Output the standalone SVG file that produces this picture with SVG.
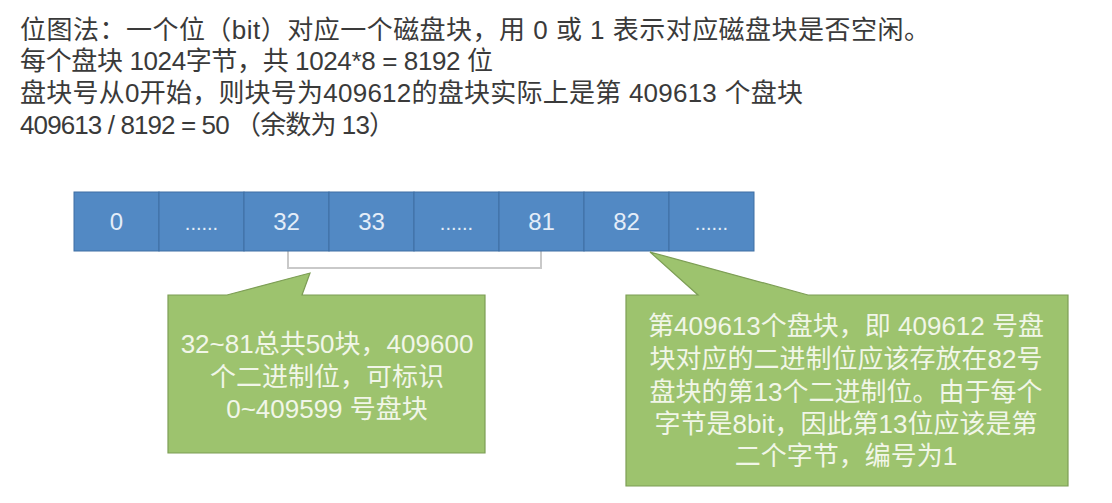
<svg xmlns="http://www.w3.org/2000/svg" width="1112" height="503" viewBox="0 0 1112 503">
<style>
.hdr{font-family:"Liberation Sans","Noto Sans CJK SC",sans-serif;font-size:26px;fill:#3a3a3a}
.cell{fill:#5289c4;stroke:#3f6fa3;stroke-width:1}
.lbl{font-family:"Liberation Sans","Noto Sans CJK SC",sans-serif;font-size:24px;fill:#e4edf8;text-anchor:middle}
.dots{font-family:"Liberation Sans",sans-serif;font-size:20px;fill:#e4edf8;text-anchor:middle}
.call{fill:#9dc36e;stroke:#7d9e55;stroke-width:1.2}
.ct{font-family:"Liberation Sans","Noto Sans CJK SC",sans-serif;font-size:26px;fill:#f1f6e8;text-anchor:middle}
.brk{fill:#ffffff;stroke:#c9c9c9;stroke-width:2}
</style>
<rect width="1112" height="503" fill="#ffffff"/>
<g id="header">
<text class="hdr" x="20" y="39" textLength="910" lengthAdjust="spacing">位图法：一个位（bit）对应一个磁盘块，用 0 或 1 表示对应磁盘块是否空闲。</text>
<text class="hdr" x="20" y="70" textLength="473" lengthAdjust="spacing">每个盘块 1024字节，共 1024*8 = 8192 位</text>
<text class="hdr" x="20" y="102" textLength="783" lengthAdjust="spacing">盘块号从0开始，则块号为409612的盘块实际上是第 409613 个盘块</text>
<text class="hdr" x="20" y="134" textLength="375" lengthAdjust="spacing">409613 / 8192 = 50 （余数为 13）</text>
</g>
<g id="connectors">
<path class="brk" d="M288,251 V268 H541 V251"/>
</g>
<g id="cell-0"><rect class="cell" x="74" y="192" width="85" height="59"/><text class="lbl" x="116.5" y="230">0</text></g>
<g id="cell-dots1"><rect class="cell" x="159" y="192" width="85" height="59"/><text class="dots" x="201.5" y="230">......</text></g>
<g id="cell-32"><rect class="cell" x="244" y="192" width="85" height="59"/><text class="lbl" x="286.5" y="230">32</text></g>
<g id="cell-33"><rect class="cell" x="329" y="192" width="85" height="59"/><text class="lbl" x="371.5" y="230">33</text></g>
<g id="cell-dots2"><rect class="cell" x="414" y="192" width="85" height="59"/><text class="dots" x="456.5" y="230">......</text></g>
<g id="cell-81"><rect class="cell" x="499" y="192" width="85" height="59"/><text class="lbl" x="541.5" y="230">81</text></g>
<g id="cell-82"><rect class="cell" x="584" y="192" width="85" height="59"/><text class="lbl" x="626.5" y="230">82</text></g>
<g id="cell-dots3"><rect class="cell" x="669" y="192" width="85" height="59"/><text class="dots" x="711.5" y="230">......</text></g>
<g id="callout-left">
<path class="call" d="M168,295 H227 L310,273 L302,295 H485 V453 H168 Z"/>
<text class="ct" x="327" y="353">32~81总共50块，409600</text>
<text class="ct" x="327" y="386">个二进制位，可标识</text>
<text class="ct" x="327" y="418">0~409599 号盘块</text>
</g>
<g id="callout-right">
<path class="call" d="M626,295 H698 L650,252 L808,295 H1068 V486 H626 Z"/>
<text class="ct" x="846" y="335">第409613个盘块，即 409612 号盘</text>
<text class="ct" x="846" y="368">块对应的二进制位应该存放在82号</text>
<text class="ct" x="846" y="401">盘块的第13个二进制位。由于每个</text>
<text class="ct" x="846" y="433">字节是8bit，因此第13位应该是第</text>
<text class="ct" x="846" y="465">二个字节，编号为1</text>
</g>
</svg>
